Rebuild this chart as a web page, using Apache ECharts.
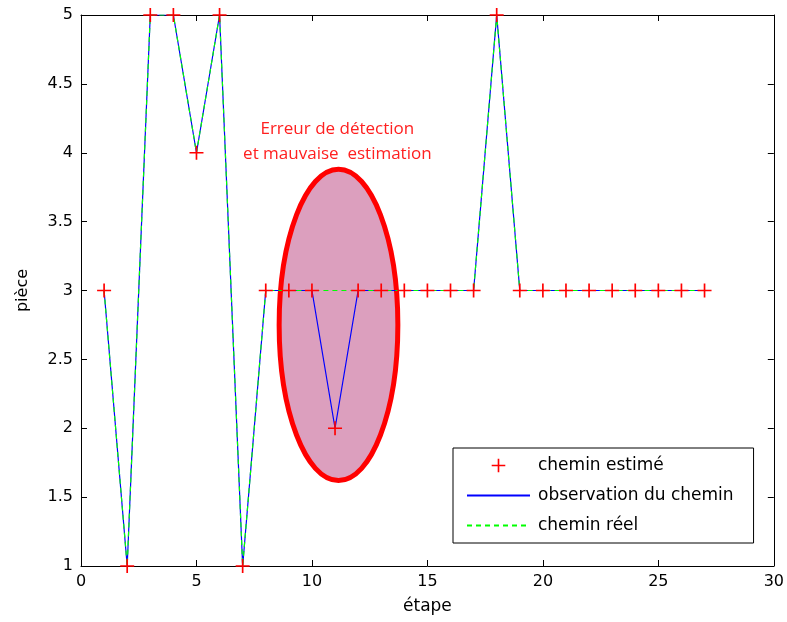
<!DOCTYPE html>
<html><head><meta charset="utf-8">
<script src="https://cdn.jsdelivr.net/npm/echarts@6/dist/echarts.min.js"></script>
<style>html,body{margin:0;padding:0;background:#fff}#c{width:787px;height:622px}</style>
</head><body><div id="c"></div>
<script>
// ---- data ----
const etapes        = [1,2,3,4,5,6,7,8,9,10,11,12,13,14,15,16,17,18,19,20,21,22,23,24,25,26,27];
const cheminEstime  = [3,1,5,5,4,5,1,3,3,3,2,3,3,3,3,3,3,5,3,3,3,3,3,3,3,3,3];
const observation   = [3,1,5,5,4,5,1,3,3,3,2,3,3,3,3,3,3,5,3,3,3,3,3,3,3,3,3];
const cheminReel    = [3,1,5,5,4,5,1,3,3,3,3,3,3,3,3,3,3,5,3,3,3,3,3,3,3,3,3];
const seriesNames   = ['chemin estimé','observation du chemin','chemin réel'];
const annotationLines = ['Erreur de détection','et mauvaise  estimation'];
// annotation placement in data space
const ellipseCenter = [11.15, 2.75];
const ellipseRadii  = [2.57, 1.13];
const annotationPos = [11.1, 4.08];

const pair = (xs, ys) => xs.map((x, i) => [x, ys[i]]);
const FONT = 'DejaVu Sans';
const plus = 'path://M44,0 L56,0 L56,44 L100,44 L100,56 L56,56 L56,100 L44,100 L44,56 L0,56 L0,44 L44,44 Z';

const chart = echarts.init(document.getElementById('c'), null, {renderer: 'canvas'});

const axisCommon = {
  type: 'value',
  axisLine: {show: true, onZero: false, lineStyle: {color: '#000', width: 1}},
  axisTick: {show: true, inside: true, length: 6, lineStyle: {color: '#000'}},
  splitLine: {show: false},
  axisLabel: {color: '#000', fontSize: 16, fontFamily: FONT, showMinLabel: true, showMaxLabel: true}
};

chart.setOption({
  animation: false,
  backgroundColor: '#fff',
  grid: {left: 81, right: 13, top: 15, bottom: 56, containLabel: false},
  xAxis: [
    Object.assign({}, axisCommon, {min: 0, max: 30, interval: 5, position: 'bottom',
      axisLabel: Object.assign({}, axisCommon.axisLabel, {margin: 8}),
      name: 'étape', nameLocation: 'middle', nameGap: 32,
      nameTextStyle: {color: '#000', fontSize: 17, fontFamily: FONT}}),
    Object.assign({}, axisCommon, {min: 0, max: 30, interval: 5, position: 'top',
      axisLabel: {show: false}})
  ],
  yAxis: [
    Object.assign({}, axisCommon, {min: 1, max: 5, interval: 0.5, position: 'left',
      axisLabel: Object.assign({}, axisCommon.axisLabel, {margin: 8}),
      name: 'pièce', nameLocation: 'middle', nameGap: 50,
      nameTextStyle: {color: '#000', fontSize: 16, fontFamily: FONT}}),
    Object.assign({}, axisCommon, {min: 1, max: 5, interval: 0.5, position: 'right',
      axisLabel: {show: false}})
  ],
  legend: {
    orient: 'vertical', left: 453, top: 448,
    padding: [9, 20, 9, 13],
    itemWidth: 63, itemHeight: 17, itemGap: 13,
    backgroundColor: '#fff', borderColor: '#000', borderWidth: 1,
    textStyle: {color: '#000', fontSize: 17, fontFamily: FONT, padding: [0, 0, 0, 3]},
    data: [
      {name: seriesNames[0]},
      {name: seriesNames[1], itemStyle: {opacity: 0}},
      {name: seriesNames[2], itemStyle: {opacity: 0}}
    ]
  },
  series: [
    {name: seriesNames[1], type: 'line', data: pair(etapes, observation), symbol: 'none',
     lineStyle: {color: '#0000ff', width: 1.2}, itemStyle: {color: '#0000ff'}, z: 3},
    {name: seriesNames[2], type: 'line', data: pair(etapes, cheminReel), symbol: 'none',
     lineStyle: {color: '#00ff00', width: 1.2, type: [5, 4]}, itemStyle: {color: '#00ff00'}, z: 4},
    {name: seriesNames[0], type: 'line', data: pair(etapes, cheminEstime), symbol: plus, symbolSize: 14,
     showSymbol: true, lineStyle: {width: 0, opacity: 0}, itemStyle: {color: '#ff0000'}, z: 5}
  ]
});

const c = chart.convertToPixel({xAxisIndex: 0, yAxisIndex: 0}, ellipseCenter);
const e = chart.convertToPixel({xAxisIndex: 0, yAxisIndex: 0}, [ellipseCenter[0] + ellipseRadii[0], ellipseCenter[1] + ellipseRadii[1]]);
const t = chart.convertToPixel({xAxisIndex: 0, yAxisIndex: 0}, annotationPos);
chart.setOption({
  graphic: [
    {type: 'ellipse', z: 1, shape: {cx: c[0], cy: c[1], rx: e[0] - c[0], ry: c[1] - e[1]},
     style: {fill: '#dc9fbe', stroke: '#ff0000', lineWidth: 5}},
    {type: 'text', z: 10, x: t[0], y: t[1],
     style: {text: annotationLines.join('\n'), fill: '#ff2020', font: '17px "Open Sans"',
             letterSpacing: 0.8, align: 'center', verticalAlign: 'middle', lineHeight: 25}}
  ]
});
</script></body></html>
